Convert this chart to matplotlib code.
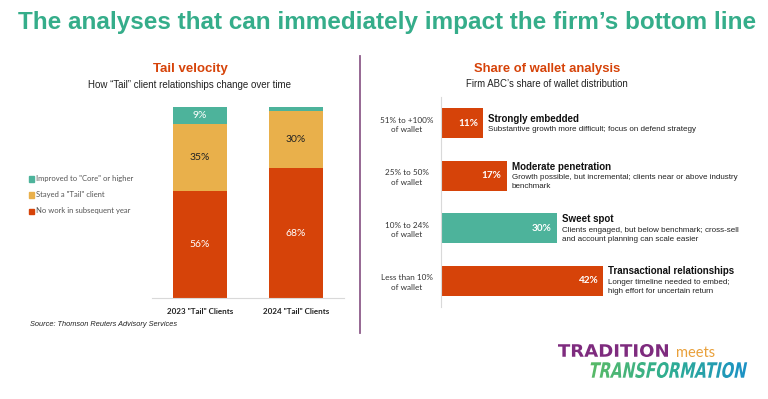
import numpy as np
import matplotlib
matplotlib.use("Agg")
import matplotlib.pyplot as plt
from matplotlib.textpath import TextPath
from matplotlib.patches import PathPatch, Rectangle
from matplotlib.font_manager import FontProperties
from matplotlib.transforms import Affine2D

# data - left chart (tail velocity)
years = ['2023 "Tail" Clients', '2024 "Tail" Clients']
no_work = [56, 68]
stayed_tail = [35, 30]
improved = [9, 2]
series_names = ['No work in subsequent year', 'Stayed a "Tail" client', 'Improved to "Core" or higher']

# data - right chart (share of wallet)
wallet_bands = ['51% to +100%\nof wallet', '25% to 50%\nof wallet', '10% to 24%\nof wallet', 'Less than 10%\nof wallet']
wallet_share = [11, 17, 30, 42]
wallet_titles = ['Strongly embedded', 'Moderate penetration', 'Sweet spot', 'Transactional relationships']
wallet_notes = ['Substantive growth more difficult; focus on defend strategy',
                'Growth possible, but incremental; clients near or above industry\nbenchmark',
                'Clients engaged, but below benchmark; cross-sell\nand account planning can scale easier',
                'Longer timeline needed to embed;\nhigh effort for uncertain return']

RED = '#D64309'
YEL = '#E9B04B'
TEAL = '#4DB39B'
TITLE_GREEN = '#35AD8A'
W, H = 768, 399

plt.rcParams['font.family'] = ['Liberation Sans', 'DejaVu Sans']
fig = plt.figure(figsize=(7.68, 3.99), dpi=100)


def fx(px):
    return px / W


def fy(py):
    return 1 - py / H


fig.text(fx(18), fy(22), 'The analyses that can immediately impact the firm\u2019s bottom line',
         color=TITLE_GREEN, fontsize=17.45, fontweight='bold', va='center', ha='left')

# ---------- left chart ----------
fig.text(fx(190), fy(69), 'Tail velocity', color=RED, fontsize=9.5, fontweight='bold', ha='center', va='center')
fig.text(fx(190), fy(85), 'How \u201cTail\u201d client relationships change over time', color='#222222',
         fontsize=7.0, ha='center', va='center')

ax1 = fig.add_axes([fx(152), fy(298), fx(344) - fx(152), (298 - 107) / H])
x = np.arange(len(years))
bw = 0.57
ax1.bar(x, no_work, bw, color=RED)
ax1.bar(x, stayed_tail, bw, bottom=no_work, color=YEL)
bottoms2 = [a + b for a, b in zip(no_work, stayed_tail)]
ax1.bar(x, improved, bw, bottom=bottoms2, color=TEAL)
ax1.set_xlim(-0.5, 1.5)
ax1.set_ylim(0, 100)
for i in range(len(years)):
    ax1.text(x[i], no_work[i] / 2, f'{no_work[i]}%', color='white', ha='center', va='center',
             fontsize=7.5, family='Lato')
    ax1.text(x[i], no_work[i] + stayed_tail[i] / 2, f'{stayed_tail[i]}%', color='#222222', ha='center',
             va='center', fontsize=7.5, family='Lato')
    if improved[i] >= 5:
        ax1.text(x[i], bottoms2[i] + improved[i] / 2, f'{improved[i]}%', color='white', ha='center',
                 va='center', fontsize=7.5, family='Lato')
for s in ['top', 'left', 'right']:
    ax1.spines[s].set_visible(False)
ax1.spines['bottom'].set_color('#d9d9d9')
ax1.set_yticks([])
ax1.set_xticks(x)
ax1.set_xticklabels(years, fontsize=5.8, family='Lato', color='#222222', fontweight='bold')
ax1.tick_params(axis='x', length=0, pad=7)

# legend drawn by hand at the left
leg_cols = [TEAL, YEL, RED]
leg_names = series_names[::-1]
for k, (c, n) in enumerate(zip(leg_cols, leg_names)):
    yy = 179 + k * 16
    fig.patches.append(Rectangle((fx(29), fy(yy + 2.5)), fx(5), 5 / H, color=c, transform=fig.transFigure))
    fig.text(fx(36), fy(yy), n, fontsize=5.5, family='Lato', color='#555555', va='center', ha='left')

fig.text(fx(30), fy(324), 'Source: Thomson Reuters Advisory Services', fontsize=5.3, style='italic',
         color='#222222', va='center', ha='left')

# divider
fig.add_artist(plt.Line2D([fx(360), fx(360)], [fy(56), fy(333)], color='#8E5C8A', lw=1.3))

# ---------- right chart ----------
fig.text(fx(547), fy(69), 'Share of wallet analysis', color=RED, fontsize=9.4, fontweight='bold',
         ha='center', va='center')
fig.text(fx(547), fy(84), 'Firm ABC\u2019s share of wallet distribution', color='#222222', fontsize=6.9,
         ha='center', va='center')

ax2 = fig.add_axes([fx(441), fy(307), fx(741) - fx(441), (307 - 97) / H])
y = np.arange(len(wallet_bands))
bar_cols = [RED, RED, TEAL, RED]
ax2.barh(y, wallet_share, 0.57, color=bar_cols)
ax2.set_ylim(3.5, -0.5)
ax2.set_xlim(0, 300 / 3.86)
for s in ['top', 'bottom', 'right']:
    ax2.spines[s].set_visible(False)
ax2.spines['left'].set_color('#d9d9d9')
ax2.set_xticks([])
ax2.set_yticks(y)
ax2.set_yticklabels(wallet_bands, fontsize=5.9, family='Lato', color='#333333', linespacing=1.4,
                    ha='center')
ax2.tick_params(axis='y', length=0, pad=24.5)
for i in range(len(y)):
    ax2.annotate(f'{wallet_share[i]}%', (wallet_share[i], y[i]), xytext=(-3.6, 0), textcoords='offset points',
                 ha='right', va='center', color='white', fontsize=7.2, fontweight='bold', family='Lato')
    n = wallet_notes[i].count('\n') + 1
    # block of title + n note lines, ~11 px after title and ~9.5 px per note line, centred on the bar
    block = 11 + (n - 1) * 9.5
    title_px = -block / 2 + 1
    note_px = title_px + 11 + (n - 1) * 9.5 / 2
    ax2.annotate(wallet_titles[i], (wallet_share[i], y[i]), xytext=(3.6, -title_px * 0.72),
                 textcoords='offset points', ha='left', va='center', fontsize=7.0, fontweight='bold',
                 color='#111111')
    ax2.annotate(wallet_notes[i], (wallet_share[i], y[i]), xytext=(3.6, -note_px * 0.72),
                 textcoords='offset points', ha='left', va='center', fontsize=5.8, color='#222222',
                 linespacing=1.45)

# ---------- logo ----------
def logo_word(txt, x0, ybase, height_px, width_px, color=None, cmap=None, slant=0.0):
    fp = FontProperties(family='DejaVu Sans', weight='bold')
    tp = TextPath((0, 0), txt, size=100, prop=fp)
    bb = tp.get_extents()
    sx = width_px / bb.width
    sy = height_px / bb.height
    tr = Affine2D().translate(-bb.x0, -bb.y0).scale(sx, sy).skew(slant, 0).translate(x0, H - ybase)
    tr = tr + Affine2D().scale(1 / W, 1 / H) + fig.transFigure
    if cmap is None:
        p = PathPatch(tp, transform=tr, color=color, lw=0)
        fig.add_artist(p)
    else:
        p = PathPatch(tp, transform=tr, facecolor='none', lw=0)
        fig.add_artist(p)
        gax = fig.add_axes([fx(x0 - 5), fy(ybase), fx(width_px + 15), height_px / H])
        gax.set_axis_off()
        grad = np.linspace(0, 1, 256).reshape(1, -1)
        im = gax.imshow(grad, cmap=cmap, aspect='auto', extent=(0, 1, 0, 1))
        im.set_clip_path(p)


logo_word('TRADITION', 558, 357, 13, 110, color='#7E2B7E')
fig.text(fx(676), fy(353), 'meets', color='#E9A03A', fontsize=10.5, family='Lato', va='center', ha='left')
grad_cmap = matplotlib.colors.LinearSegmentedColormap.from_list('tt', ['#5DBB63', '#2FAE92', '#1A8FCB'])
logo_word('TRANSFORMATION', 588, 378, 16, 156, cmap=grad_cmap, slant=0.2)

fig.savefig('out.png', dpi=100)
